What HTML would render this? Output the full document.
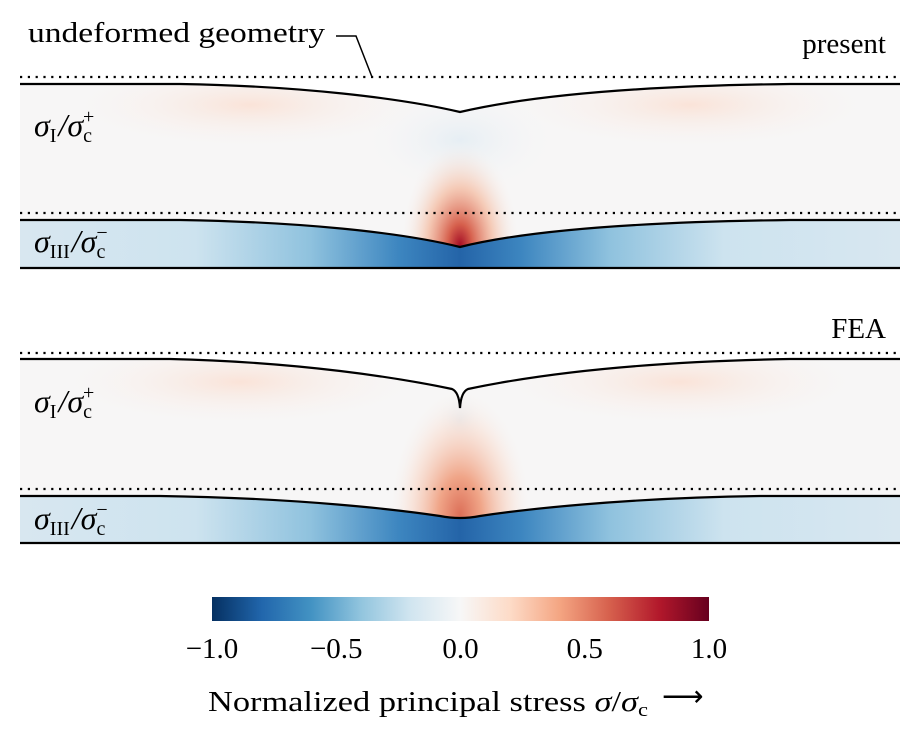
<!DOCTYPE html>
<html><head><meta charset="utf-8"><style>
html,body{margin:0;padding:0;background:#fff}
svg{display:block;font-family:"Liberation Serif",serif}
</style></head><body>
<svg width="920" height="738" viewBox="0 0 920 738">
<defs>
 <linearGradient id="blueBand" x1="0" x2="1" y1="0" y2="0">
  <stop offset="0" stop-color="#d8e7f0"/><stop offset="0.2" stop-color="#cde3ef"/>
  <stop offset="0.33" stop-color="#8fc2de"/><stop offset="0.43" stop-color="#3d86c0"/>
  <stop offset="0.5" stop-color="#2464a8"/><stop offset="0.57" stop-color="#3d86c0"/>
  <stop offset="0.67" stop-color="#8fc2de"/><stop offset="0.8" stop-color="#cde3ef"/>
  <stop offset="1" stop-color="#d8e7f0"/>
 </linearGradient>
 <radialGradient id="redBlob1" cx="460" cy="245" r="75" gradientUnits="userSpaceOnUse" gradientTransform="translate(460 245) scale(0.8 1.4) translate(-460 -245)">
  <stop offset="0" stop-color="#a50f26"/><stop offset="0.2" stop-color="#d6604d"/>
  <stop offset="0.55" stop-color="#f4b89c" stop-opacity="0.7"/><stop offset="1" stop-color="#f7f7f7" stop-opacity="0"/>
 </radialGradient>
 <radialGradient id="redBlob2" cx="460" cy="515" r="80" gradientUnits="userSpaceOnUse" gradientTransform="translate(460 515) scale(0.9 1.6) translate(-460 -515)">
  <stop offset="0" stop-color="#dc6f58"/><stop offset="0.3" stop-color="#f0a588"/>
  <stop offset="0.7" stop-color="#f9d8c8" stop-opacity="0.5"/><stop offset="1" stop-color="#f7f7f7" stop-opacity="0"/>
 </radialGradient>
 <radialGradient id="pinkL" cx="0.5" cy="0.5" r="0.5"><stop offset="0" stop-color="#fae3d8"/><stop offset="1" stop-color="#f7f6f6" stop-opacity="0"/></radialGradient>
 <radialGradient id="blueC" cx="0.5" cy="0.5" r="0.5"><stop offset="0" stop-color="#e6eef4"/><stop offset="1" stop-color="#f7f6f6" stop-opacity="0"/></radialGradient>
 <linearGradient id="cbar" x1="0" x2="1">
  <stop offset="0" stop-color="#053061"/><stop offset="0.1" stop-color="#2166ac"/>
  <stop offset="0.2" stop-color="#4393c3"/><stop offset="0.3" stop-color="#92c5de"/>
  <stop offset="0.4" stop-color="#d1e5f0"/><stop offset="0.5" stop-color="#f7f7f7"/>
  <stop offset="0.6" stop-color="#fddbc7"/><stop offset="0.7" stop-color="#f4a582"/>
  <stop offset="0.8" stop-color="#d6604d"/><stop offset="0.9" stop-color="#b2182b"/>
  <stop offset="1" stop-color="#67001f"/>
 </linearGradient>
 <clipPath id="up1"><path d="M20,84 L180,84 C300,86 400,98 460,112 C520,98 620,86 790,84 L900,84 L900,220 L790,220 C620,222 520,232 460,247 C400,232 300,222 180,220 L20,220 Z"/></clipPath>
 <clipPath id="lo1"><path d="M20,220 L180,220 C300,222 400,232 460,247 C520,232 620,222 790,220 L900,220 L900,268 L20,268 Z"/></clipPath>
 <clipPath id="up2"><path d="M20,359 L170,359 C300,362 400,378 452,389 Q459,392 460,408 Q461,392 468,389 C520,378 620,362 790,359 L900,359 L900,496 L760,496 C620,498 520,510 480,516 Q460,520 440,516 C400,510 300,498 160,496 L20,496 Z"/></clipPath>
 <clipPath id="lo2"><path d="M20,496 L160,496 C300,498 400,510 440,516 Q460,520 480,516 C520,510 620,498 760,496 L900,496 L900,543 L20,543 Z"/></clipPath>
</defs>

<g>
 <text x="28" y="42" font-size="29" textLength="297" lengthAdjust="spacingAndGlyphs" fill="#000">undeformed geometry</text>
 <path d="M336,36 L356,36 L372,77" fill="none" stroke="#000" stroke-width="1.5"/>
 <text x="886" y="53" font-size="29" text-anchor="end">present</text>
 <text x="886" y="338" font-size="29" text-anchor="end">FEA</text>
</g>

<g>
 <g clip-path="url(#up1)">
  <rect x="20" y="80" width="880" height="190" fill="#f7f6f6"/>
  <ellipse cx="250" cy="105" rx="190" ry="45" fill="url(#pinkL)"/>
  <ellipse cx="690" cy="105" rx="190" ry="45" fill="url(#pinkL)"/>
  <ellipse cx="460" cy="140" rx="100" ry="55" fill="url(#blueC)"/>
  <rect x="20" y="80" width="880" height="190" fill="url(#redBlob1)"/>
 </g>
 <g clip-path="url(#lo1)">
  <rect x="20" y="215" width="880" height="55" fill="url(#blueBand)"/>
 </g>
 <line x1="20" y1="77" x2="900" y2="77" stroke="#000" stroke-width="2.2" stroke-dasharray="2.2 5.6"/>
 <line x1="20" y1="213" x2="900" y2="213" stroke="#000" stroke-width="2.2" stroke-dasharray="2.2 5.6"/>
 <path d="M20,84 L180,84 C300,86 400,98 460,112 C520,98 620,86 790,84 L900,84" fill="none" stroke="#000" stroke-width="2.2"/>
 <path d="M20,220 L180,220 C300,222 400,232 460,247 C520,232 620,222 790,220 L900,220" fill="none" stroke="#000" stroke-width="2.2"/>
 <line x1="20" y1="268" x2="900" y2="268" stroke="#000" stroke-width="2.2"/>
 <text x="34" y="136" font-size="32" font-style="italic">σ<tspan font-style="normal" font-size="20" dy="6">I</tspan><tspan dy="-6" dx="2">/σ</tspan><tspan font-style="normal" font-size="20" dy="6">c</tspan><tspan font-style="normal" font-size="20" dx="-9" dy="-19">+</tspan></text>
 <text x="34" y="252" font-size="32" font-style="italic">σ<tspan font-style="normal" font-size="20" dy="6">III</tspan><tspan dy="-6" dx="2">/σ</tspan><tspan font-style="normal" font-size="20" dy="6">c</tspan><tspan font-style="normal" font-size="20" dx="-9" dy="-19">−</tspan></text>
</g>

<g>
 <g clip-path="url(#up2)">
  <rect x="20" y="355" width="880" height="190" fill="#f7f6f6"/>
  <ellipse cx="240" cy="382" rx="190" ry="45" fill="url(#pinkL)"/>
  <ellipse cx="680" cy="382" rx="190" ry="45" fill="url(#pinkL)"/>
  <ellipse cx="460" cy="420" rx="25" ry="30" fill="url(#blueC)"/>
  <rect x="20" y="355" width="880" height="190" fill="url(#redBlob2)"/>
 </g>
 <g clip-path="url(#lo2)">
  <rect x="20" y="490" width="880" height="55" fill="url(#blueBand)"/>
 </g>
 <line x1="20" y1="353" x2="900" y2="353" stroke="#000" stroke-width="2.2" stroke-dasharray="2.2 5.6"/>
 <line x1="20" y1="489" x2="900" y2="489" stroke="#000" stroke-width="2.2" stroke-dasharray="2.2 5.6"/>
 <path d="M20,359 L170,359 C300,362 400,378 452,389 Q459,392 460,408 Q461,392 468,389 C520,378 620,362 790,359 L900,359" fill="none" stroke="#000" stroke-width="2.2"/>
 <path d="M20,496 L160,496 C300,498 400,510 440,516 Q460,520 480,516 C520,510 620,498 760,496 L900,496" fill="none" stroke="#000" stroke-width="2.2"/>
 <line x1="20" y1="543" x2="900" y2="543" stroke="#000" stroke-width="2.2"/>
 <text x="34" y="412" font-size="32" font-style="italic">σ<tspan font-style="normal" font-size="20" dy="6">I</tspan><tspan dy="-6" dx="2">/σ</tspan><tspan font-style="normal" font-size="20" dy="6">c</tspan><tspan font-style="normal" font-size="20" dx="-9" dy="-19">+</tspan></text>
 <text x="34" y="529" font-size="32" font-style="italic">σ<tspan font-style="normal" font-size="20" dy="6">III</tspan><tspan dy="-6" dx="2">/σ</tspan><tspan font-style="normal" font-size="20" dy="6">c</tspan><tspan font-style="normal" font-size="20" dx="-9" dy="-19">−</tspan></text>
</g>

<g id="colorbar">
 <rect x="212" y="597" width="497" height="24" fill="url(#cbar)"/>
 <g id="cbticks"></g>
 <text x="208" y="711" font-size="29" textLength="440" lengthAdjust="spacingAndGlyphs">Normalized principal stress <tspan font-style="italic">σ</tspan>/<tspan font-style="italic">σ</tspan><tspan font-size="19" dy="5">c</tspan></text>
 <text x="662" y="706" font-size="29">⟶</text>
</g>
</svg>
<script>
const tickValues = [-1.0, -0.5, 0.0, 0.5, 1.0];
const tickLabels = ["−1.0", "−0.5", "0.0", "0.5", "1.0"];
const cbX0 = 212, cbX1 = 709, vMin = -1, vMax = 1;
function xScale(v){ return cbX0 + (v - vMin) / (vMax - vMin) * (cbX1 - cbX0); }
const g = document.getElementById('cbticks');
const NS = 'http://www.w3.org/2000/svg';
tickValues.forEach((v, i) => {
  const t = document.createElementNS(NS, 'text');
  t.setAttribute('x', xScale(v));
  t.setAttribute('y', 658);
  t.setAttribute('font-size', '29');
  t.setAttribute('text-anchor', 'middle');
  t.textContent = tickLabels[i];
  
  
  g.appendChild(t);
});
</script>
</body></html>
